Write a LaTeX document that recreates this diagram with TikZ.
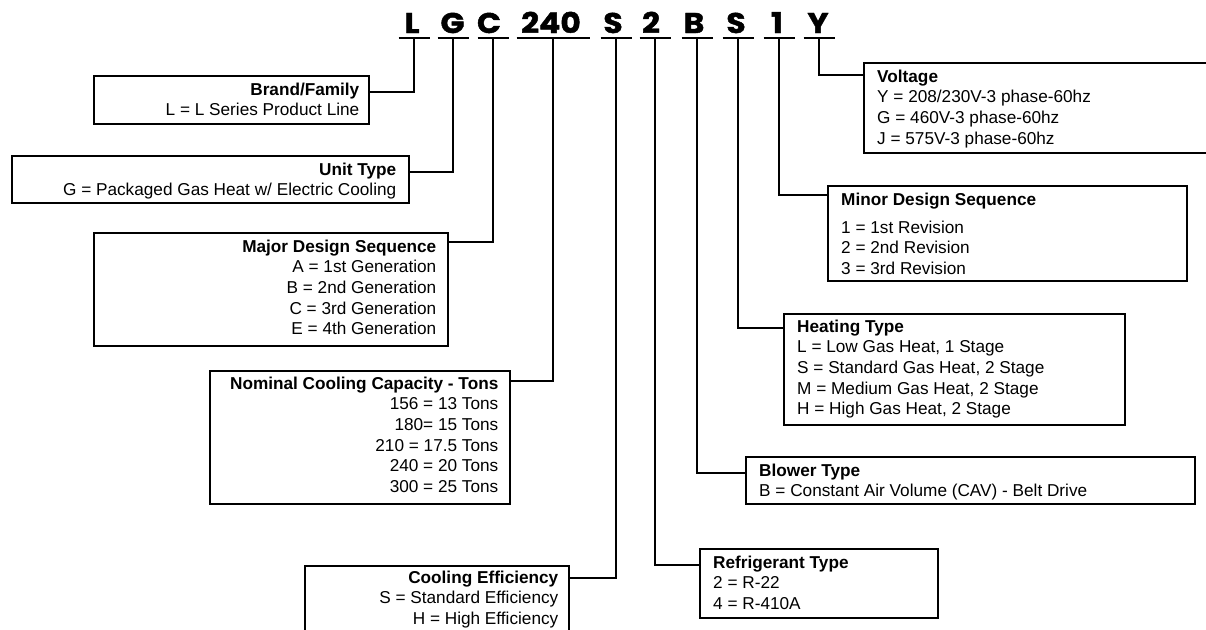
\documentclass[tikz,border=0pt]{standalone}
\usepackage{fontspec}
\setmainfont{Liberation Sans}
\newfontfamily\codefont[FakeStretch=1.1, BoldFeatures={FakeBold=1.6}]{Poppins}
\usetikzlibrary{calc}
\tikzset{
  box/.style={draw, line width=1.5pt, inner sep=0pt, anchor=north west},
  lbl/.style={inner sep=0pt, font=\fontsize{17.2}{20.7}\selectfont},
  code/.style={inner sep=0pt, anchor=base, font=\codefont\bfseries\fontsize{28.5}{30}\selectfont},
  wire/.style={line width=1.5pt},
  uline/.style={line width=2pt},
}
\begin{document}
\begin{tikzpicture}[x=1pt,y=-1pt]
\useasboundingbox (0,0) rectangle (1206,629);
\clip (0,0) rectangle (1206,629);

% code characters
\node[code] (cL) at (412,33) {L};
\node[code] (cG) at (452.5,33) {G};
\node[code] (cC) at (489,33) {C};
\node[code] (cN) at (551,33) {240};
\node[code] (cS) at (613,33) {S};
\node[code] (c2) at (651,33) {2};
\node[code] (cB) at (694,33) {B};
\node[code] (cH) at (736,33) {S};
\node[code] (c1) at (777,33) {1};
\node[code] (cY) at (818,33) {Y};

\coordinate (uL) at (414,38);
\coordinate (uG) at (453,38);
\coordinate (uC) at (493,38);
\coordinate (uN) at (553,38);
\coordinate (uS) at (616,38);
\coordinate (u2) at (655,38);
\coordinate (uB) at (697,38);
\coordinate (uH) at (738,38);
\coordinate (u1) at (779,38);
\coordinate (uY) at (819,38);

\foreach \u in {uL,uG,uC,uS,u2,uB,uH,u1,uY}
  \draw[uline] ([xshift=-15.5pt]\u) -- ([xshift=15.5pt]\u);
\draw[uline] ([xshift=-36.5pt]uN) -- ([xshift=36.5pt]uN);

% boxes
\node[box, minimum width=275, minimum height=48] (brand) at (93,75) {};
\node[box, minimum width=397, minimum height=47] (unit) at (11,155) {};
\node[box, minimum width=354, minimum height=113] (major) at (93,232) {};
\node[box, minimum width=300, minimum height=133] (nominal) at (209,370) {};
\node[box, minimum width=264, minimum height=90] (cooling) at (304,565) {};
\node[box, minimum width=420, minimum height=90] (voltage) at (863,62) {};
\node[box, minimum width=359, minimum height=95] (minor) at (827,185) {};
\node[box, minimum width=341, minimum height=111] (heating) at (783,313) {};
\node[box, minimum width=449, minimum height=47] (blower) at (745,456) {};
\node[box, minimum width=238, minimum height=69] (refrig) at (699,548) {};

% texts
\node[lbl, anchor=base east] (tbrand) at ($(brand.north east)+(-10,20)$)
  {\begin{tabular}[t]{@{}r@{}}\textbf{Brand/Family}\\ L = L Series Product Line\end{tabular}};
\node[lbl, anchor=base east] (tunit) at ($(unit.north east)+(-13,20)$)
  {\begin{tabular}[t]{@{}r@{}}\textbf{Unit Type}\\ G = Packaged Gas Heat w/ Electric Cooling\end{tabular}};
\node[lbl, anchor=base east] (tmajor) at ($(major.north east)+(-12,20)$)
  {\begin{tabular}[t]{@{}r@{}}\textbf{Major Design Sequence}\\ A = 1st Generation\\ B = 2nd Generation\\ C = 3rd Generation\\ E = 4th Generation\end{tabular}};
\node[lbl, anchor=base east] (tnominal) at ($(nominal.north east)+(-12,19)$)
  {\begin{tabular}[t]{@{}r@{}}\textbf{Nominal Cooling Capacity - Tons}\\ 156 = 13 Tons\\ 180= 15 Tons\\ 210 = 17.5 Tons\\ 240 = 20 Tons\\ 300 = 25 Tons\end{tabular}};
\node[lbl, anchor=base east] (tcooling) at ($(cooling.north east)+(-11,18)$)
  {\begin{tabular}[t]{@{}r@{}}\textbf{Cooling Efficiency}\\ S = Standard Efficiency\\ H = High Efficiency\end{tabular}};

\node[lbl, anchor=base west] (tvoltage) at ($(voltage.north west)+(14,20)$)
  {\begin{tabular}[t]{@{}l@{}}\textbf{Voltage}\\ Y = 208/230V-3 phase-60hz\\ G = 460V-3 phase-60hz\\ J = 575V-3 phase-60hz\end{tabular}};
\node[lbl, anchor=base west] (tminor) at ($(minor.north west)+(14,20)$)
  {\begin{tabular}[t]{@{}l@{}}\textbf{Minor Design Sequence}\\[7.3pt] 1 = 1st Revision\\ 2 = 2nd Revision\\ 3 = 3rd Revision\end{tabular}};
\node[lbl, anchor=base west] (theating) at ($(heating.north west)+(14,19)$)
  {\begin{tabular}[t]{@{}l@{}}\textbf{Heating Type}\\ L = Low Gas Heat, 1 Stage\\ S = Standard Gas Heat, 2 Stage\\ M = Medium Gas Heat, 2 Stage\\ H = High Gas Heat, 2 Stage\end{tabular}};
\node[lbl, anchor=base west] (tblower) at ($(blower.north west)+(14,20)$)
  {\begin{tabular}[t]{@{}l@{}}\textbf{Blower Type}\\ B = Constant Air Volume (CAV) - Belt Drive\end{tabular}};
\node[lbl, anchor=base west] (trefrig) at ($(refrig.north west)+(14,20)$)
  {\begin{tabular}[t]{@{}l@{}}\textbf{Refrigerant Type}\\ 2 = R-22\\ 4 = R-410A\end{tabular}};

% connectors
\draw[wire] (uL) |- ($(brand.north east)+(0,17)$);
\draw[wire] (uG) |- ($(unit.north east)+(0,17)$);
\draw[wire] (uC) |- ($(major.north east)+(0,10)$);
\draw[wire] (uN) |- ($(nominal.north east)+(0,11)$);
\draw[wire] (uS) |- ($(cooling.north east)+(0,13)$);
\draw[wire] (u2) |- ($(refrig.north west)+(0,17)$);
\draw[wire] (uB) |- ($(blower.north west)+(0,17)$);
\draw[wire] (uH) |- ($(heating.north west)+(0,15)$);
\draw[wire] (u1) |- ($(minor.north west)+(0,10)$);
\draw[wire] (uY) |- ($(voltage.north west)+(0,13)$);
\end{tikzpicture}
\end{document}
